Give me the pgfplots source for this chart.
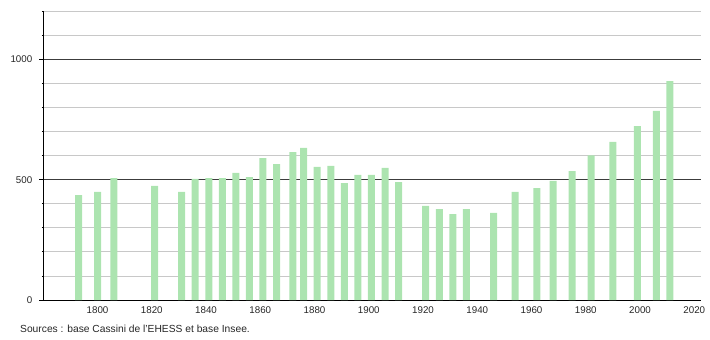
\documentclass[border=0pt]{standalone}
\usepackage{fontspec}
\setmainfont{Liberation Sans}
\usepackage{pgfplots}
\pgfplotsset{compat=1.18}
\definecolor{barg}{RGB}{172,228,176}
\definecolor{minorg}{RGB}{200,200,200}
\definecolor{majorg}{RGB}{60,60,60}
\begin{document}
\begin{tikzpicture}
\path[use as bounding box] (-43.3bp,-40bp) rectangle (666.7bp,300bp);
\begin{axis}[
  at={(0,0)}, anchor=south west,
  scale only axis,
  width=658bp, height=288.7bp,
  xmin=1780, xmax=2022.6,
  ymin=0, ymax=1200,
  axis x line=bottom, axis y line=left,
  axis line style={-, black, line width=0.9pt},
  xtick={1800,1820,...,2020},
  ytick={0,500,1000},
  minor ytick={100,200,300,400,600,700,800,900,1100,1200},
  ymajorgrids, yminorgrids,
  major grid style={majorg, line width=0.8pt},
  minor grid style={minorg, line width=0.8pt},
  tick align=outside,
  major tick length=4bp, minor tick length=1.5bp,
  x tick style={draw=none},
  y tick style={black, line width=0.8pt},
  /pgf/number format/1000 sep={},
  /pgf/number format/assume math mode=true,
  tick label style={font=\fontsize{9.8}{11}\selectfont, text=black!85},
  xticklabel style={yshift=1bp},
  yticklabel style={xshift=-3.5bp},
  clip=false,
]
\addplot[ybar, bar width=7bp, fill=barg, draw=none, bar shift=0pt] coordinates {
(1793,436) (1800,449) (1806,507) (1821,474) (1831,449) (1836,503)
(1841,507) (1846,507) (1851,528) (1856,511) (1861,590) (1866,565)
(1872,615) (1876,632) (1881,553) (1886,557) (1891,486) (1896,520)
(1901,520) (1906,549) (1911,490) (1921,391) (1926,378) (1931,357)
(1936,378) (1946,362) (1954,449) (1962,465) (1968,495) (1975,536)
(1982,601) (1990,657) (1999,723) (2006,786) (2011,910)
};
\end{axis}
\node[anchor=base west, font=\fontsize{10.3}{12}\selectfont, text=black!85, inner sep=0pt] at (-23.3bp,-32bp) {Sources : base Cassini de l'EHESS et base Insee.};
\end{tikzpicture}
\end{document}
